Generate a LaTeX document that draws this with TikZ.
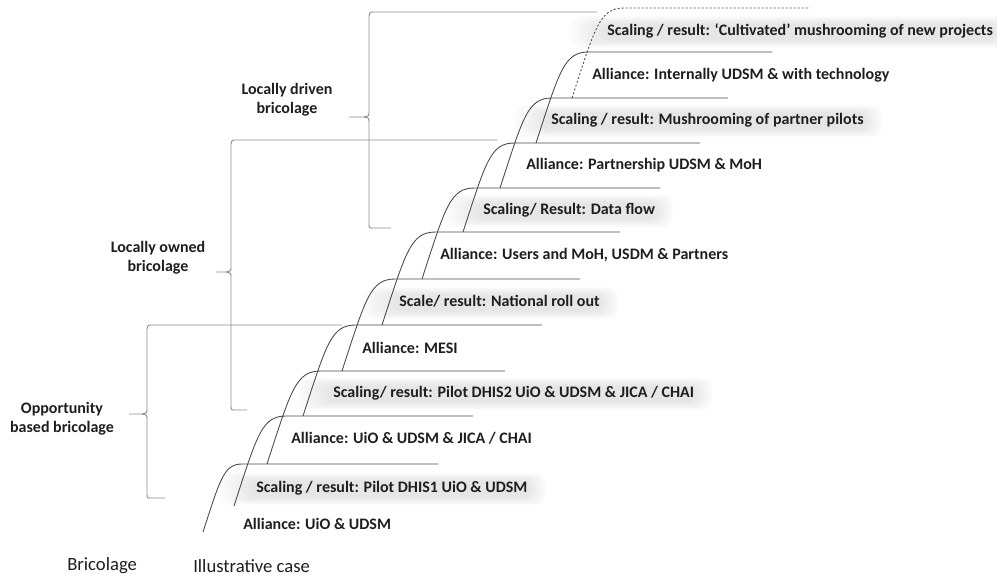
\documentclass[tikz,border=0pt]{standalone}
\usepackage{fontspec}
\setmainfont{Carlito}
\usetikzlibrary{calc,backgrounds}
\definecolor{ink}{HTML}{1E1E1E}
\definecolor{stair}{HTML}{4A4A4A}
\definecolor{brk}{HTML}{8E8E8E}

% soft grey haze behind a label node
\newcommand\haze[1]{%
  \foreach \g in {0,...,9}{%
    \fill[black!40, opacity=0.028, rounded corners=7pt]
      ($(#1.south west)+({-36+3.4*\g},{8-0.9*\g})$) rectangle
      ($(#1.north east)+({18-1.8*\g},{-8+0.9*\g})$);
  }%
}

\begin{document}
\begin{tikzpicture}[x=0.75pt,y=-0.75pt,
  stairline/.style={draw=stair, line width=0.65pt},
  brace/.style={draw=brk, line width=0.7pt},
  lbl/.style={anchor=west, inner sep=0pt, text height=9pt, text depth=3pt,
    font=\bfseries\fontsize{12}{14}\selectfont, text=ink},
  grp/.style={align=center, inner sep=0pt,
    font=\bfseries\fontsize{12}{14.3}\selectfont, text=ink},
  head/.style={anchor=west, inner sep=0pt,
    font=\fontsize{14}{16}\selectfont, text=ink}]
\useasboundingbox (0,0) rectangle (997,577);

% rising steps: start point, level reached, right end of the level
\foreach \n/\xs/\ys/\yl/\xe in {1/203/532/464/438, 2/234/506/416/473,
    3/267/464/371/505, 4/303/416/325/542, 5/342/371/279/580,
    6/382/325/232/620, 7/422/279/188/660, 8/463/232/143/700,
    9/500/188/98/728, 10/536/143/52/772}{
  \pgfmathsetmacro\dd{\ys-\yl}
  \coordinate (rise\n) at (\xs,\ys);
  \draw[stairline] (rise\n)
    .. controls ($(rise\n)+({0.26*\dd},{-0.8*\dd})$)
       and ($(rise\n)+({0.31*\dd},{-\dd})$)
    .. ($(rise\n)+({0.58*\dd},{-\dd})$) -- (\xe,\yl);
}
% the anticipated next step
\coordinate (rise11) at (572,98);
\draw[stairline, dash pattern=on 1.5pt off 1.5pt] (rise11)
  .. controls ($(rise11)+(23.4,-72)$) and ($(rise11)+(27.9,-90)$)
  .. ($(rise11)+(52.2,-90)$) -- (810,8);

% step labels
\node[lbl] (t12) at (607,32) {Scaling / result: ‘Cultivated’ mushrooming of new projects};
\node[lbl] (t11) at (592,76) {Alliance: Internally UDSM \& with technology};
\node[lbl] (t10) at (551,121) {Scaling / result: Mushrooming of partner pilots};
\node[lbl] (t9)  at (526,166) {Alliance: Partnership UDSM \& MoH};
\node[lbl] (t8)  at (483,211) {Scaling/ Result: Data flow};
\node[lbl] (t7)  at (440,256) {Alliance: Users and MoH, USDM \& Partners};
\node[lbl] (t6)  at (399,303) {Scale/ result: National roll out};
\node[lbl] (t5)  at (362,350) {Alliance: MESI};
\node[lbl] (t4)  at (333,394) {Scaling/ result: Pilot DHIS2 UiO \& UDSM \& JICA / CHAI};
\node[lbl] (t3)  at (291,440) {Alliance: UiO \& UDSM \& JICA / CHAI};
\node[lbl] (t2)  at (256,489) {Scaling / result: Pilot DHIS1 UiO \& UDSM};
\node[lbl] (t1)  at (243,525) {Alliance: UiO \& UDSM};

\begin{scope}[on background layer]
  \haze{t12}\haze{t10}\haze{t8}\haze{t6}\haze{t4}\haze{t2}
\end{scope}

% group braces
\draw[brace] (597,12) -- (374,12) .. controls (370,12) .. (369,16) -- (369,112)
  .. controls (369,116) .. (364,117) -- (349,117);
\draw[brace] (364,117) .. controls (369,118) .. (369,122) -- (369,224)
  .. controls (369,228) .. (373,228) -- (391,228);

\draw[brace] (497,140) -- (236,140) .. controls (232,140) .. (231,144) -- (231,267)
  .. controls (231,271) .. (226,272) -- (216,272);
\draw[brace] (226,272) .. controls (231,273) .. (231,277) -- (231,406)
  .. controls (231,410) .. (235,410) -- (247,410);

\draw[brace] (342,325) -- (152,325) .. controls (148,325) .. (147,329) -- (147,409)
  .. controls (147,413) .. (142,414) -- (129,414);
\draw[brace] (142,414) .. controls (147,415) .. (147,419) -- (147,494)
  .. controls (147,498) .. (151,498) -- (165,498);

\node[grp] (g3) at (287,100) {Locally driven\\bricolage};
\node[grp] (g2) at (158,258) {Locally owned\\bricolage};
\node[grp] (g1) at (62,419) {Opportunity\\based bricolage};

% column headings
\node[head] (h1) at (67,566) {Bricolage};
\node[head] (h2) at (193,566) {Illustrative case};
\end{tikzpicture}
\end{document}
